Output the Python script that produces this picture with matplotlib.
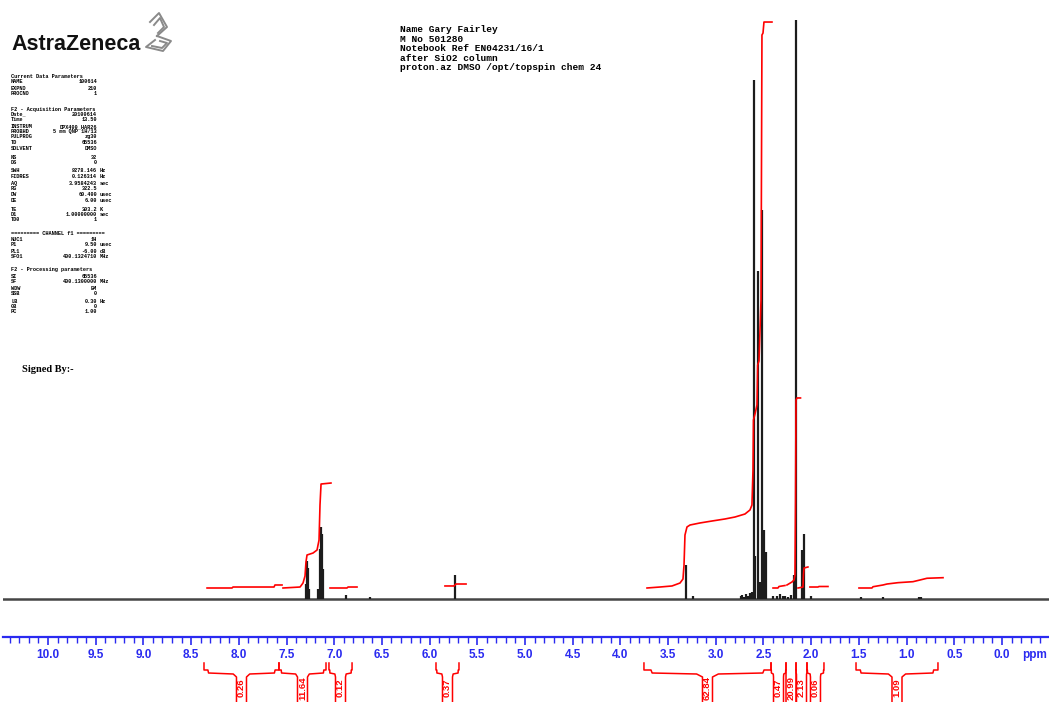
import matplotlib
matplotlib.use("Agg")
import matplotlib.pyplot as plt
from matplotlib.lines import Line2D

# ---------------- data ----------------
peak_ppm = [7.300, 7.288, 7.276, 7.264, 7.165, 7.152, 7.138, 7.128, 7.115,
            6.880, 6.620, 5.735, 3.315, 3.240,
            2.740, 2.720, 2.700, 2.680, 2.660, 2.645, 2.630, 2.620,
            2.603, 2.590, 2.561, 2.540, 2.513, 2.492, 2.475,
            2.400, 2.360, 2.330, 2.300, 2.270, 2.240, 2.210,
            2.180, 2.163, 2.093, 2.075, 2.000, 1.480, 1.250, 0.870, 0.850]
peak_int = [2.6, 6.6, 5.4, 1.7, 1.8, 8.6, 12.4, 11.2, 5.2,
            0.7, 0.35, 4.1, 5.9, 0.5,
            0.5, 0.7, 0.4, 0.8, 0.6, 1.0, 0.7, 1.2,
            89.6, 7.4, 56.6, 3.0, 67.2, 11.9, 8.1,
            0.6, 0.5, 0.8, 0.5, 0.6, 0.4, 0.7,
            4.1, 100.0, 8.5, 11.2, 0.5, 0.4, 0.4, 0.4, 0.4]

# integral traces (ppm, level in spectrum units)
int_A1_ppm = [8.333, 8.071, 8.061, 7.631, 7.621, 7.547]
int_A1_val = [1.90, 1.90, 2.07, 2.07, 2.42, 2.42]
int_A2_ppm = [7.537, 7.358, 7.327, 7.306, 7.296, 7.285, 7.222, 7.180, 7.159, 7.149, 7.138, 7.034]
int_A2_val = [1.90, 2.07, 2.76, 3.97, 6.39, 7.60, 7.94, 8.46, 10.19, 16.23, 19.86, 20.03]
int_B_ppm = [7.044, 6.866, 6.855, 6.761]
int_B_val = [1.90, 1.90, 2.07, 2.07]
int_C_ppm = [5.839, 5.744, 5.723, 5.618]
int_C_val = [2.25, 2.25, 2.59, 2.59]
int_D_ppm = [3.721, 3.585, 3.459, 3.375, 3.344, 3.333, 3.323, 3.302, 3.270, 3.166, 3.040,
             2.904, 2.799, 2.694, 2.642, 2.621, 2.610, 2.605, 2.589, 2.568, 2.561, 2.547,
             2.526, 2.516, 2.505, 2.495, 2.411]
int_D_val = [1.90, 2.07, 2.25, 2.76, 3.45, 5.87, 11.05, 12.44, 12.78, 13.13, 13.47,
             13.82, 14.16, 14.68, 15.37, 16.23, 22.28, 30.92, 31.95, 33.50, 40.41, 41.11,
             51.64, 97.41, 97.75, 99.65, 99.65]
int_E_ppm = [2.400, 2.348, 2.338, 2.275]
int_E_val = [1.90, 1.90, 2.16, 2.33]
int_F_ppm = [2.254, 2.201, 2.180, 2.170, 2.164, 2.159, 2.149, 2.112]
int_F_val = [2.42, 2.94, 3.28, 4.15, 17.10, 34.37, 34.72, 34.72]
int_G_ppm = [2.138, 2.086, 2.081, 2.075, 2.034]
int_G_val = [1.90, 2.07, 4.15, 5.35, 5.53]
int_H_ppm = [2.013, 1.929, 1.918, 1.824]
int_H_val = [2.07, 2.07, 2.16, 2.16]
int_I_ppm = [1.499, 1.363, 1.352, 1.247, 1.205, 1.090, 0.933, 0.860, 0.786, 0.618]
int_I_val = [1.90, 1.90, 2.12, 2.42, 2.59, 2.82, 2.99, 3.28, 3.58, 3.68]

integral_labels = ["0.26", "11.64", "0.12", "0.37", "62.84", "0.47", "20.99", "2.13", "0.06", "1.09"]
region_left = [8.365, 7.579, 7.055, 5.933, 3.753, 2.421, 2.264, 2.159, 2.044, 1.530]
region_right = [7.579, 7.086, 6.813, 5.692, 2.421, 2.264, 2.159, 2.044, 1.866, 0.671]

tick_vals = [10.0, 9.5, 9.0, 8.5, 8.0, 7.5, 7.0, 6.5, 6.0, 5.5, 5.0,
             4.5, 4.0, 3.5, 3.0, 2.5, 2.0, 1.5, 1.0, 0.5, 0.0]
tick_labels = ["10.0", "9.5", "9.0", "8.5", "8.0", "7.5", "7.0", "6.5", "6.0", "5.5", "5.0",
               "4.5", "4.0", "3.5", "3.0", "2.5", "2.0", "1.5", "1.0", "0.5", "0.0"]

header_lines = ["Name Gary Fairley", "M No 501280", "Notebook Ref EN04231/16/1",
                "after SiO2 column", "proton.az DMSO /opt/topspin chem 24"]

param_names = ["Current Data Parameters", "NAME", "EXPNO", "PROCNO",
               "F2 - Acquisition Parameters", "Date_", "Time", "INSTRUM", "PROBHD", "PULPROG",
               "TD", "SOLVENT", "NS", "DS", "SWH", "FIDRES", "AQ", "RG", "DW", "DE", "TE",
               "D1", "TD0", "========= CHANNEL f1 =========", "NUC1", "P1", "PL1", "SFO1",
               "F2 - Processing parameters", "SI", "SF", "WDW", "SSB", "LB", "GB", "PC"]
param_values = ["", "100614", "210", "1",
                "", "20100614", "13.50", "DPX400_HAR26", "5 mm QNP 1H/13", "zg30",
                "65536", "DMSO", "32", "0", "8278.146", "0.126314", "3.9584243", "322.5",
                "60.400", "6.00", "303.2", "1.00000000", "1", "", "1H", "9.50", "-6.00",
                "400.1324710", "", "65536", "400.1300000", "EM", "0", "0.30", "0", "1.00"]
param_units = ["", "", "", "",
               "", "", "", "", "", "",
               "", "", "", "", "Hz", "Hz", "sec", "", "usec", "usec", "K",
               "sec", "", "", "", "usec", "dB", "MHz", "", "", "MHz", "", "", "Hz", "", ""]

# ---------------- layout ----------------
W, H = 1049, 702
fig = plt.figure(figsize=(W / 100, H / 100), dpi=100)
fig.patch.set_facecolor("white")


def fx(x):
    return x / W


def fy(y):
    return 1 - y / H


XL, XR = 10.472, -0.493
BLUE = "#2a2af0"
RED = "#ff0000"
axw = fx(1049) - fx(3)

# spectrum
ax = fig.add_axes([fx(3), fy(601), axw, fy(20) - fy(601)])
ax.set_xlim(XL, XR)
ax.set_ylim(-2 / 5.79, 100)
ax.axis("off")
ax.axhline(0, color="#454545", lw=1.8, zorder=1)
ax.vlines(peak_ppm, 0, peak_int, colors="#1c1c1c", lw=1.6, zorder=2, clip_on=False)
traces = [(int_A1_ppm, int_A1_val), (int_A2_ppm, int_A2_val), (int_B_ppm, int_B_val),
          (int_C_ppm, int_C_val), (int_D_ppm, int_D_val), (int_E_ppm, int_E_val),
          (int_F_ppm, int_F_val), (int_G_ppm, int_G_val), (int_H_ppm, int_H_val),
          (int_I_ppm, int_I_val)]
for p, v in traces:
    ax.plot(p, v, color=RED, lw=1.2, zorder=3, clip_on=False)

# ppm scale
ax2 = fig.add_axes([fx(3), fy(637), axw, 1e-4])
ax2.set_xlim(XL, XR)
for s in ["top", "left", "right"]:
    ax2.spines[s].set_visible(False)
ax2.spines["bottom"].set_color(BLUE)
ax2.spines["bottom"].set_linewidth(1.6)
ax2.set_yticks([])
ax2.patch.set_alpha(0)
ax2.set_xticks(tick_vals, labels=tick_labels, fontweight="bold", family="Liberation Sans")
minor = [round(i * 0.1, 1) for i in range(-4, 105)]
ax2.set_xticks(minor, minor=True)
ax2.tick_params(axis="x", which="major", direction="out", length=6, width=1.2,
                color=BLUE, labelcolor=BLUE, labelsize=8.5, pad=3)
ax2.tick_params(axis="x", which="minor", direction="out", length=4, width=1.0, color=BLUE)
fig.text(fx(1022), fy(655), "ppm", color=BLUE, fontsize=8.5, fontweight="bold",
         family="Liberation Sans", va="center", ha="left")

# integral brackets
ax3 = fig.add_axes([fx(3), 0, axw, fy(655)])
ax3.set_xlim(XL, XR)
ax3.set_ylim(702, 655)
ax3.axis("off")
hw = 5 * (XL - XR) / 1046.0
ys = [663, 670, 670, 673, 674, 677, 702]
for lbl, a, b in zip(integral_labels, region_left, region_right):
    c = (a + b) / 2
    for end, edge in ((a, c + hw), (b, c - hw)):
        d = edge - end
        xs = [end, end, end + 0.12 * d, end + 0.14 * d, end + 0.9 * d, edge, edge]
        ax3.plot(xs, ys, color=RED, lw=1.1, clip_on=False)
    ax3.text(c, 688, lbl, rotation=90, ha="center", va="center", color=RED,
             fontsize=6.8, fontweight="bold", family="Liberation Sans")

# header
for i, line in enumerate(header_lines):
    fig.text(fx(400), fy(30 + i * 9.4), line, family="Liberation Mono", fontweight="bold",
             fontsize=6.8, va="center", ha="left")

# parameter block
param_rows = [76.7, 81.5, 88.3, 93.3, 109, 114, 119.5, 126.7, 131.5, 136.5, 143, 148, 157.7,
              162.7, 171, 176, 183.3, 188.3, 195, 200.7, 209.3, 214.3, 219.3, 233.3, 239.3,
              244.3, 251.7, 256.7, 270, 276.7, 281.7, 288.3, 293.5, 301.7, 306.7, 311.7]
for name, val, unit, row in zip(param_names, param_values, param_units, param_rows):
    kw = dict(family="Liberation Mono", fontweight="bold", fontsize=3.8, va="center")
    fig.text(fx(11), fy(row), name, ha="left", **kw)
    if val:
        fig.text(fx(97), fy(row), val, ha="right", **kw)
    if unit:
        fig.text(fx(100), fy(row), unit, ha="left", **kw)

fig.text(fx(22), fy(369), "Signed By:-", family="Liberation Serif", fontweight="bold",
         fontsize=7.5, va="center", ha="left")

# logo
fig.text(fx(11), fy(50), "AstraZeneca", family="Liberation Sans", fontweight="bold",
         fontsize=15.5, va="baseline", ha="left", color="#111111")
logo_paths = [
    [(150, 22), (159, 13), (167, 27), (157, 36)],
    [(154, 25), (160, 18), (164, 27), (158, 33)],
    [(157, 36), (171, 41), (163, 51), (146, 47), (155, 40)],
    [(160, 41), (167, 43), (162, 48), (152, 46)],
]
for pts in logo_paths:
    fig.add_artist(Line2D([fx(p[0]) for p in pts], [fy(p[1]) for p in pts],
                          transform=fig.transFigure, color="#8a8a8a", lw=1.4))

fig.savefig("out.png", dpi=100, facecolor="white")
